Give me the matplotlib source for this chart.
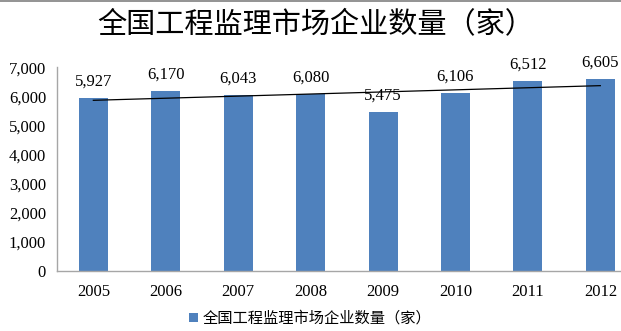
import numpy as np
import matplotlib.pyplot as plt
from matplotlib.lines import Line2D

plt.rcParams['font.family'] = ['Liberation Serif', 'Noto Sans CJK SC']

years = ['2005', '2006', '2007', '2008', '2009', '2010', '2011', '2012']
counts = [5927, 6170, 6043, 6080, 5475, 6106, 6512, 6605]
series_name = '全国工程监理市场企业数量（家）'

bar_color = '#4F81BD'
axis_color = '#A6A6A6'

fig = plt.figure(figsize=(6.21, 3.31), dpi=100)
ax = fig.add_axes([0.092, 0.181, 0.933, 0.616])

x = np.arange(len(years))
bars = ax.bar(x, counts, width=0.4, color=bar_color, label=series_name, zorder=2)

# value labels above each bar
for xi, v in zip(x, counts):
    ax.annotate(f'{v:,}', (xi, v), xytext=(0, 6), textcoords='offset points',
                ha='center', va='bottom', fontsize=12, family='Liberation Serif')

# linear trend line
k, b = np.polyfit(x, counts, 1)
ax.plot(x, k * x + b, color='black', linewidth=0.9, zorder=3)

ax.set_xlim(-0.5, len(years) - 0.5)
ax.set_ylim(0, 7000)
ax.set_yticks(range(0, 7001, 1000))
ax.set_yticklabels([f'{v:,}' for v in range(0, 7001, 1000)], fontsize=12)
ax.set_xticks(x)
ax.set_xticklabels(years, fontsize=12)
ax.tick_params(axis='x', length=0, pad=9)
ax.tick_params(axis='y', length=0, pad=8)

for side in ['top', 'right']:
    ax.spines[side].set_visible(False)
for side in ['left', 'bottom']:
    ax.spines[side].set_color(axis_color)
    ax.spines[side].set_linewidth(1)

fig.text(0.508, 0.925, series_name, ha='center', va='center', fontsize=21,
         fontweight='medium', family='Noto Sans CJK SC')

fig.legend(handles=[bars], labels=[series_name], loc='center',
           bbox_to_anchor=(0.5, 0.038), frameon=False,
           handlelength=0.6, handleheight=0.6, handletextpad=0.3,
           prop={'family': 'Noto Sans CJK SC', 'size': 11})

# thin grey rule along the top edge
fig.add_artist(Line2D([0, 1], [0.998, 0.998], transform=fig.transFigure,
                      color='#808080', linewidth=1.2))

fig.savefig('out.png', dpi=100)
